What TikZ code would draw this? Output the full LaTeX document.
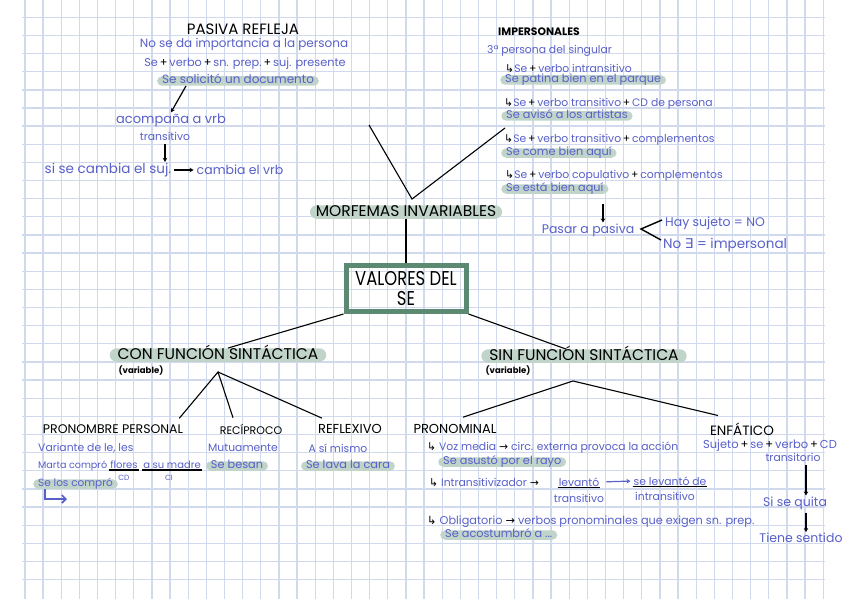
\documentclass[tikz,border=0pt]{standalone}
\usepackage{fontspec}
\setmainfont{Poppins}
\newfontfamily\symf{DejaVu Sans}
\usetikzlibrary{arrows.meta}
\definecolor{azul}{RGB}{88,96,202}
\definecolor{resalte}{RGB}{192,212,201}
\definecolor{caja}{RGB}{92,137,114}
\definecolor{cuadro}{RGB}{208,218,236}
\newcommand{\mas}{{\color{black}\,+\,}}
\newcommand{\fle}{{\color{black}\symf →}}
\newcommand{\gancho}{{\color{black}\symf ↳}}

\begin{document}
\begin{tikzpicture}[x=1pt, y=-1pt,
        azultx/.style={text=azul, font=\fontsize{10.8}{12}\selectfont, inner sep=1pt},
        azulg/.style={azultx, font=\fontsize{12.5}{14}\selectfont},
        resal/.style={azultx, font=\fontsize{11.3}{13}\selectfont, fill=resalte,
          rounded corners=5pt, inner xsep=5pt, inner ysep=0pt, text height=7.5pt, text depth=2pt},
        titulo/.style={font=\fontsize{12}{14}\selectfont, inner sep=1pt},
        grande/.style={font=\fontsize{15.5}{17}\selectfont, inner xsep=8pt, inner ysep=0.5pt,
          text height=11pt, text depth=1.5pt, fill=resalte, rounded corners=7pt},
        chico/.style={font=\fontsize{8.5}{9}\selectfont\bfseries, inner sep=0pt},
        flecha/.style={-{Stealth[length=4pt,width=4.5pt]}, line width=1.2pt},
        rama/.style={line width=1.1pt},
        ]

        \useasboundingbox (0,0) rectangle (848,599);
        \fill[white] (0,0) rectangle (848,599);

        % cuadricula
        \foreach \i in {0,...,44}
          \draw[cuadro, line width=1.3pt] ({25+18.14*\i},0) -- ({25+18.14*\i},599);
        \foreach \j in {0,...,31}
          \draw[cuadro, line width=1.3pt] (22,{17.3+18.14*\j}) -- (825,{17.3+18.14*\j});

        % pasiva refleja
        \node (pasiva) [titulo, font=\fontsize{15}{17}\selectfont] at (243,29) {PASIVA REFLEJA};
        \node (noimporta) [azulg, font=\fontsize{12}{14}\selectfont] at (244,44) {No se da importancia a la persona};
        \node (formula) [azultx, font=\fontsize{11.3}{13}\selectfont] at (245,64) {Se\mas verbo\mas sn. prep.\mas suj. presente};
        \node (solicito) [resal, font=\fontsize{12}{13}\selectfont] at (238,81) {Se solicitó un documento};
        \node (acomp) [azulg, font=\fontsize{13}{15}\selectfont] at (171,120) {acompaña a vrb};
        \node (trans) [azultx] at (165,136) {transitivo};
        \node (cambiasuj) [azulg, font=\fontsize{13.5}{15}\selectfont] at (108,170) {si se cambia el suj.};
        \node (cambiavrb) [azulg] at (240,170) {cambia el vrb};

        \draw[flecha] ([xshift=-52pt]solicito.south) -- (acomp.north);
        \draw[flecha, shorten <=3pt] (trans.south) -- (trans.south |- cambiasuj.north);
        \draw[flecha, shorten <=2pt, shorten >=2pt] (cambiasuj) -- (cambiavrb);

        % morfemas invariables
        \coordinate (vizq) at (369,125);
        \coordinate (vder) at (505,128);
        \node (morfemas) [grande, inner xsep=6pt] at (406,212) {MORFEMAS INVARIABLES};
        \node (valores) [draw=caja, line width=5pt, minimum width=120pt,
          minimum height=46pt, inner sep=0pt, align=center,
          font=\fontsize{20}{20}\selectfont] at (406,288.5)
          {\scalebox{0.82}[1]{VALORES DEL}\\\scalebox{0.82}[1]{SE}};

        \draw[rama] (vizq) -- ([shift={(6,-6)}]morfemas.north) -- (vder);
        \draw[rama] (morfemas.south) -- (valores.north);

        % con funcion sintactica
        \node (confun) [grande] at (218,355) {CON FUNCIÓN SINTÁCTICA};
        \node (varcon) [chico] at (141,371) {(variable)};
        \coordinate (rcon) at (218,372);
        \node (pronper) [titulo, font=\fontsize{12.5}{14}\selectfont] at (113,429) {PRONOMBRE PERSONAL};
        \node (recip) [titulo, font=\fontsize{11}{13}\selectfont] at (251,429) {RECÍPROCO};
        \node (reflex) [titulo, font=\fontsize{13}{15}\selectfont] at (350,429) {REFLEXIVO};

        \draw[rama] (valores.south west) -- ([xshift=10pt]confun.north);
        \draw[rama] ([shift={(-5,-5)}]pronper.north east) -- (rcon)
          -- ([xshift=-18pt, yshift=5pt]recip.north);
        \draw[rama] (rcon) -- ([shift={(5,-5)}]reflex.north west);

        \node (variante) [azultx, anchor=west] at (37,448) {Variante de le, les};
        \node (marta) [azultx, font=\fontsize{9.6}{12}\selectfont, anchor=west] at (37,466) {Marta compró};
        \node (flores) [azultx, font=\fontsize{10}{12}\selectfont] at (124,465) {flores};
        \node (sumadre) [azultx, font=\fontsize{10}{12}\selectfont] at (172,465) {a su madre};
        \draw[line width=1.2pt] (flores.south west) -- (flores.south east);
        \draw[line width=1.2pt] (sumadre.south west) -- (sumadre.south east);
        \node (cd) [azultx, font=\fontsize{7.5}{8}\selectfont] at (124,478) {CD};
        \node (ci) [azultx, font=\fontsize{7.5}{8}\selectfont] at (169,478) {CI};
        \node (selos) [resal, font=\fontsize{10.5}{12}\selectfont, anchor=west] at (33,484) {Se los compró};
        \draw[azul, line width=1.6pt, -{Straight Barb[length=4pt]}] (45,489) |- (67,499);

        \node (mutua) [azultx] at (243,448) {Mutuamente};
        \node (besan) [resal] at (237,466) {Se besan};
        \node (simismo) [azultx] at (338,448) {A sí mismo};
        \node (lava) [resal] at (348,466) {Se lava la cara};

        % impersonales
        \node (imper) [titulo, font=\fontsize{10.8}{12}\selectfont\bfseries] at (539,32) {IMPERSONALES};
        \node (tercera) [azultx, anchor=west] at (486,51) {3ª persona del singular};
        \node (intrans) [azultx, anchor=west] at (504,68) {\gancho Se\mas verbo intransitivo};
        \node (patina) [resal, anchor=west] at (500,80) {Se patina bien en el parque};
        \node (cdper) [azultx, anchor=west] at (503,104) {\gancho Se\mas verbo transitivo\mas CD de persona};
        \node (avisar) [resal, anchor=west] at (501,116) {Se avisó a los artistas};
        \node (complem) [azultx, anchor=west] at (503,140) {\gancho Se\mas verbo transitivo\mas complementos};
        \node (come) [resal, anchor=west] at (501,153) {Se come bien aquí};
        \node (copul) [azultx, anchor=west] at (504,176) {\gancho Se\mas verbo copulativo\mas complementos};
        \node (esta) [resal, anchor=west] at (501,189) {Se está bien aquí};

        \coordinate (flpas) at (603,204);
        \node (pasar) [azulg] at (588,230) {Pasar a pasiva};
        \coordinate (pico) at (641,229);
        \node (haysuj) [azulg, anchor=west] at (664,223) {Hay sujeto = NO};
        \node (noexiste) [azulg, font=\fontsize{13.5}{15}\selectfont, anchor=west] at (662,245) {No {\symf ∃} = impersonal};

        \draw[flecha] (flpas) -- (flpas |- pasar.north);
        \draw[line width=1.4pt] ([xshift=-2pt, yshift=3pt]haysuj.west) -- (pico)
          -- ([shift={(-1,-5)}]noexiste.west);

        % sin funcion sintactica
        \node (sinfun) [grande] at (584,356) {SIN FUNCIÓN SINTÁCTICA};
        \node (varsin) [chico] at (508,371) {(variable)};
        \coordinate (rsin) at (573,381);
        \node (pronom) [titulo, font=\fontsize{13}{15}\selectfont] at (455,429) {PRONOMINAL};
        \node (enfat) [titulo, font=\fontsize{13.5}{15}\selectfont] at (742,429) {ENFÁTICO};

        \draw[rama] (valores.south east) -- ([xshift=-18pt]sinfun.north);
        \draw[rama] ([shift={(8,-6)}]pronom.north) -- (rsin)
          -- ([shift={(-24,-6)}]enfat.north);

        \node (vozmedia) [azultx, anchor=west] at (426,448) {\gancho\ Voz media \fle\ circ. externa provoca la acción};
        \node (asusto) [resal, anchor=west] at (438,462) {Se asustó por el rayo};
        \node (intrz) [azultx, anchor=west] at (428,482) {\gancho\ Intransitivizador \fle};
        \node (levanto) [azultx] at (579,482) {levantó};
        \node (transv) [azultx] at (579,498) {transitivo};
        \node (selev) [azultx] at (670,481) {se levantó de};
        \node (intransv) [azultx] at (665,496) {intransitivo};
        \draw[line width=1.2pt] (levanto.south west) -- (levanto.south east);
        \draw[line width=1.2pt] (selev.south west) -- (selev.south east);
        \draw[azul, flecha, shorten <=6pt, shorten >=2pt] (levanto.east) -- (selev.west);
        \node (oblig) [azultx, font=\fontsize{11.3}{13}\selectfont, anchor=west] at (426,522) {\gancho\ Obligatorio \fle\ verbos pronominales que exigen sn. prep.};
        \node (acost) [resal, anchor=west] at (440,535) {Se acostumbró a ...};

        % enfatico
        \node (sujse) [azultx, font=\fontsize{11.5}{13}\selectfont] at (770,446) {Sujeto\mas se\mas verbo\mas CD};
        \node (transit) [azultx] at (793,457) {transitorio};
        \node (quita) [azulg] at (795,503) {Si se quita};
        \node (sentido) [azulg] at (801,538) {Tiene sentido};

        \draw[flecha, shorten <=3pt] ([xshift=13pt]transit.south) -- ([xshift=13pt]transit.south |- quita.north);
        \draw[flecha, shorten <=2pt] ([xshift=11pt]quita.south) -- ([xshift=11pt]quita.south |- sentido.north);
\end{tikzpicture}
\end{document}
